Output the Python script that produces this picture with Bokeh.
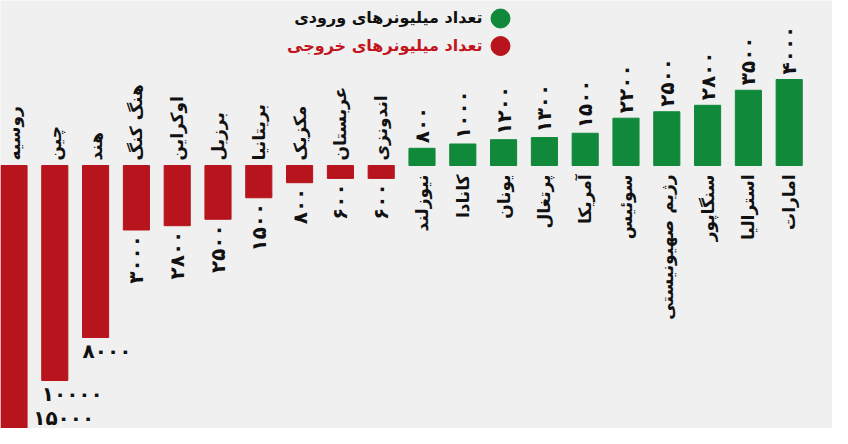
import math
from bokeh.plotting import figure
from bokeh.models import Range1d
from bokeh.core.properties import value
from bokeh.embed import file_html
from bokeh.resources import INLINE

# ---- data ----
out_countries = ["روسیه", "چین", "هند", "هنگ کنگ", "اوکراین", "برزیل", "بریتانیا", "مکزیک", "عربستان", "اندونزی"]
out_values = [15000, 10000, 8000, 3000, 2800, 2500, 1500, 800, 600, 600]
in_countries = ["نیوزلند", "کانادا", "یونان", "پرتغال", "آمریکا", "سوئیس", "رژیم صهیونیستی", "سنگاپور", "استرالیا", "امارات"]
in_values = [800, 1000, 1200, 1300, 1500, 2200, 2500, 2800, 3500, 4000]
legend_in = "تعداد میلیونرهای ورودی"
legend_out = "تعداد میلیونرهای خروجی"

GREEN = "#10893b"
RED = "#b7141d"
RED_TXT = "#c3151e"
BG = "#f0f0f0"
FONT = "DejaVu Sans"

def fa(n):
    return str(n).translate(str.maketrans("0123456789", "۰۱۲۳۴۵۶۷۸۹"))

# ---- layout / scale ----
W, H = 832, 428
k = 0.0215         # px per unit
base_px = 165      # baseline position from top (px)
step = 40.8        # px per category
y_end = base_px / k
y_start = -(H - base_px) / k
x_start = -13.5 / step
x_end = x_start + W / step

def dx(px):
    return x_start + px / step

def dy(py):
    return y_end - py / k

p = figure(width=W, height=H, output_backend="svg", toolbar_location=None,
           x_range=Range1d(x_start, x_end), y_range=Range1d(y_start, y_end),
           x_axis_location=None, y_axis_location=None, min_border=0)
p.background_fill_color = BG
p.border_fill_color = BG
p.outline_line_color = None
p.grid.visible = False

n_out = len(out_values)
xs_out = list(range(n_out))
xs_in = [n_out + i for i in range(len(in_values))]
bw = 0.64

p.vbar(x=xs_out, width=bw, top=0, bottom=[-v for v in out_values], color=RED)
p.vbar(x=xs_in, width=bw, top=in_values, bottom=0, color=GREEN)

ang = math.pi / 2
gap = 5 / k
NAME_SZ = "17px"
NUM_SZ = "20px"

# country names
p.text(x=xs_out, y=[gap] * n_out, text=out_countries, angle=ang,
       text_align="left", text_baseline="middle", text_font=value(FONT),
       text_font_style="bold", text_font_size=NAME_SZ, text_color="#111111")
p.text(x=xs_in, y=[-9 / k] * len(xs_in), text=in_countries, angle=ang,
       text_align="right", text_baseline="middle", text_font=value(FONT),
       text_font_style="bold", text_font_size=NAME_SZ, text_color="#111111")

# inflow values
p.text(x=xs_in, y=[v + gap for v in in_values], text=[fa(v) for v in in_values], angle=ang,
       text_align="left", text_baseline="middle", text_font=value(FONT),
       text_font_style="bold", text_font_size=NUM_SZ, text_color="#111111")

# outflow values: vertical for small, horizontal for large
v_x, v_y, v_t = [], [], []
h_x, h_y, h_t = [], [], []
for i, v in zip(xs_out, out_values):
    if v < 5000:
        v_x.append(i); v_y.append(-v - gap); v_t.append(fa(v))
    else:
        ly = -v - gap - 8 / k
        lx = i - bw / 2
        if ly < y_start + 11 / k:      # bar runs past the frame
            ly = y_start + 11 / k
            lx = i + bw / 2 + 0.15
        h_x.append(lx); h_y.append(ly); h_t.append(fa(v))

p.text(x=v_x, y=v_y, text=v_t, angle=ang, text_align="right", text_baseline="middle",
       text_font=value(FONT), text_font_style="bold", text_font_size=NUM_SZ, text_color="#111111")
p.text(x=h_x, y=h_y, text=h_t, text_align="left", text_baseline="middle",
       text_font=value(FONT), text_font_style="bold", text_font_size=NUM_SZ, text_color="#111111")

# legend (dot on the right, text on the left)
p.scatter(x=[dx(500), dx(500)], y=[dy(18), dy(45.5)], size=19, color=[GREEN, RED])
p.text(x=[dx(482)], y=[dy(17)], text=[legend_in], text_align="right", text_baseline="middle",
       text_font=value(FONT), text_font_style="bold", text_font_size="16px", text_color="#111111")
p.text(x=[dx(482)], y=[dy(45)], text=[legend_out], text_align="right", text_baseline="middle",
       text_font=value(FONT), text_font_style="bold", text_font_size="16px", text_color=RED_TXT)

open("out.html", "w").write(file_html(p, INLINE))
